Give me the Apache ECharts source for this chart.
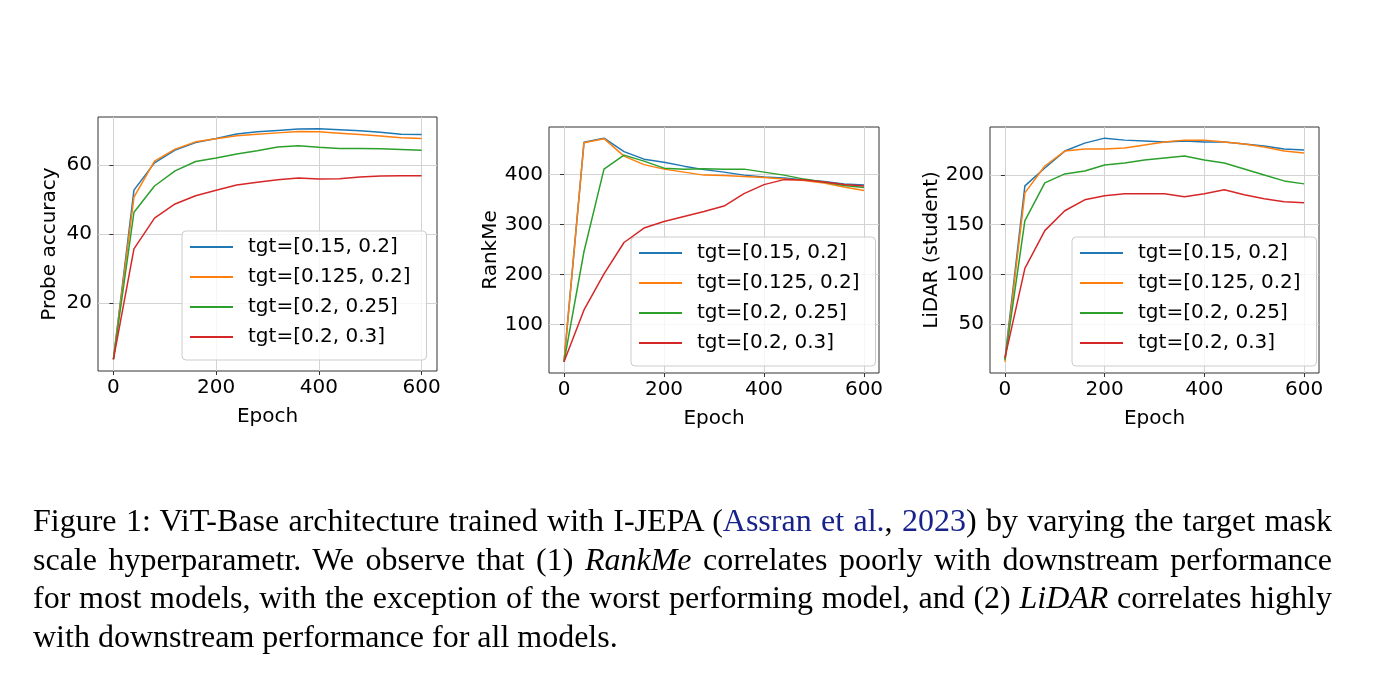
<!DOCTYPE html>
<html>
<head>
<meta charset="utf-8">
<script src="https://cdn.jsdelivr.net/npm/echarts@6/dist/echarts.min.js"></script>
<style>
  html, body { margin: 0; padding: 0; background: #fff; }
  #chart { position: absolute; left: 0; top: 0; width: 1378px; height: 692px; }
  #cap { position: absolute; left: 33px; top: 501px; width: 1299px; font-family: 'Liberation Serif', serif; font-size: 32px; line-height: 38.5px; color: #000; }
  .j { text-align: justify; text-align-last: justify; white-space: nowrap; }
  .c { color: #17238a; }
</style>
</head>
<body>
<div id="chart"></div>
<div id="cap">
  <div class="j">Figure 1: ViT-Base architecture trained with I-JEPA (<span class="c">Assran et al.</span>, <span class="c">2023</span>) by varying the target mask</div>
  <div class="j">scale hyperparametr. We observe that (1) <i>RankMe</i> correlates poorly with downstream performance</div>
  <div class="j">for most models, with the exception of the worst performing model, and (2) <i>LiDAR</i> correlates highly</div>
  <div>with downstream performance for all models.</div>
</div>
<script>
const epochs = [0, 40, 80, 120, 160, 200, 240, 280, 320, 360, 400, 440, 480, 520, 560, 600];
const seriesNames = ['tgt=[0.15, 0.2]', 'tgt=[0.125, 0.2]', 'tgt=[0.2, 0.25]', 'tgt=[0.2, 0.3]'];
const colors = ['#1f77b4', '#ff7f0e', '#2ca02c', '#d62728'];

const probeA = [3.7, 52.7, 60.6, 64.3, 66.5, 67.7, 69.0, 69.6, 70.0, 70.4, 70.5, 70.2, 69.9, 69.5, 68.9, 68.8];
const probeB = [3.7, 50.7, 61.1, 64.6, 66.7, 67.6, 68.5, 68.9, 69.3, 69.7, 69.6, 69.2, 68.8, 68.4, 67.9, 67.7];
const probeC = [3.7, 46.3, 53.9, 58.3, 61.0, 62.0, 63.2, 64.1, 65.2, 65.6, 65.1, 64.8, 64.8, 64.7, 64.5, 64.3];
const probeD = [3.7, 35.7, 44.6, 48.7, 51.1, 52.7, 54.2, 55.0, 55.7, 56.2, 55.9, 56.0, 56.5, 56.8, 56.9, 56.9];

const rankA = [25, 465, 473, 446, 431, 425, 417, 410, 405, 399, 395, 393, 389, 386, 381, 379];
const rankB = [25, 464, 472, 437, 420, 411, 405, 399, 398, 396, 394, 391, 388, 383, 375, 368];
const rankC = [25, 246, 411, 439, 427, 413, 411, 412, 411, 411, 405, 399, 391, 385, 378, 374];
const rankD = [25, 129, 201, 264, 293, 306, 316, 326, 337, 362, 380, 390, 389, 385, 380, 377];

const lidarA = [15, 189, 207, 224, 232, 237, 235, 234, 233, 234, 233, 233, 231, 229, 226, 225];
const lidarB = [12, 182, 209, 224, 226, 226, 227, 230, 233, 235, 235, 233, 231, 228, 224, 222];
const lidarC = [14, 154, 192, 201, 204, 210, 212, 215, 217, 219, 215, 212, 206, 200, 194, 191];
const lidarD = [16, 106, 144, 164, 175, 179, 181, 181, 181, 178, 181, 185, 180, 176, 173, 172];

const xTicks = [0, 200, 400, 600];
const probeTicks = [20, 40, 60];
const rankTicks = [100, 200, 300, 400];
const lidarTicks = [50, 100, 150, 200];

const panels = [
  { name: 'Probe accuracy', data: [probeA, probeB, probeC, probeD], ticks: probeTicks, ymin: 0.3, ymax: 73.9,
    grid: { left: 98, top: 117, width: 339, height: 254 }, nameGap: 38, legend: { left: 182, top: 231 } },
  { name: 'RankMe', data: [rankA, rankB, rankC, rankD], ticks: rankTicks, ymin: 2.6, ymax: 495.4,
    grid: { left: 549, top: 127, width: 330, height: 246 }, nameGap: 45, legend: { left: 631, top: 237 } },
  { name: 'LiDAR (student)', data: [lidarA, lidarB, lidarC, lidarD], ticks: lidarTicks, ymin: 0.8, ymax: 248.2,
    grid: { left: 990, top: 127, width: 329, height: 246 }, nameGap: 48, legend: { left: 1072, top: 237 } }
];

const FONT = 'DejaVu Sans';
const grids = [], xAxes = [], yAxes = [], series = [], legends = [];
panels.forEach((p, i) => {
  grids.push(Object.assign({ show: true, borderColor: '#333', borderWidth: 1, backgroundColor: 'transparent' }, p.grid));
  xAxes.push({
    type: 'value', gridIndex: i, min: -30, max: 630,
    name: 'Epoch', nameLocation: 'middle', nameGap: 36,
    nameTextStyle: { fontFamily: FONT, fontSize: 20, color: '#000' },
    axisLine: { show: false },
    axisTick: { show: true, inside: false, length: 4, customValues: xTicks, lineStyle: { color: '#333' } },
    axisLabel: { customValues: xTicks, margin: 7, fontFamily: FONT, fontSize: 20, color: '#000' },
    splitLine: { show: true, lineStyle: { color: '#d3d3d3', width: 1 } }
  });
  yAxes.push({
    type: 'value', gridIndex: i, min: p.ymin, max: p.ymax,
    name: p.name, nameLocation: 'middle', nameGap: p.nameGap,
    nameTextStyle: { fontFamily: FONT, fontSize: 20, color: '#000' },
    axisLine: { show: false },
    axisTick: { show: true, inside: false, length: 4, customValues: p.ticks, lineStyle: { color: '#333' } },
    axisLabel: { customValues: p.ticks, margin: 6, fontFamily: FONT, fontSize: 20, color: '#000' },
    splitLine: { show: true, lineStyle: { color: '#d3d3d3', width: 1 } }
  });
  p.data.forEach((vals, k) => {
    series.push({
      type: 'line', name: seriesNames[k], xAxisIndex: i, yAxisIndex: i,
      data: epochs.map((e, j) => [e, vals[j]]),
      symbol: 'none', lineStyle: { color: colors[k], width: 1.5 }, itemStyle: { color: colors[k] },
      animation: false, z: 2 + k
    });
  });
  legends.push({
    left: p.legend.left, top: p.legend.top, orient: 'vertical',
    data: seriesNames, itemWidth: 43, itemHeight: 14, itemGap: 8,
    padding: [5, 16, 12, 7], borderColor: '#cccccc', borderWidth: 1, borderRadius: 4,
    backgroundColor: 'rgba(255,255,255,0.8)',
    itemStyle: { opacity: 0 },
    textStyle: { fontFamily: FONT, fontSize: 20, color: '#000', lineHeight: 22, padding: [0, 0, 0, 10] },
    selectedMode: false
  });
});

const chart = echarts.init(document.getElementById('chart'), null, { renderer: 'canvas' });
chart.setOption({
  backgroundColor: '#fff',
  animation: false,
  grid: grids, xAxis: xAxes, yAxis: yAxes, series: series, legend: legends
});
</script>
</body>
</html>
